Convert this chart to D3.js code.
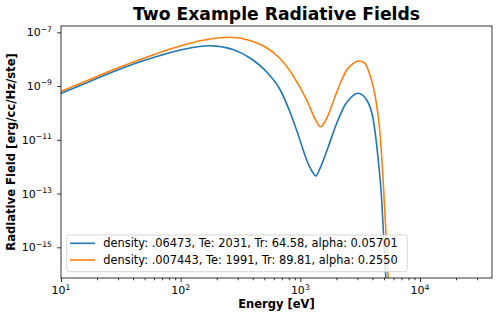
<!DOCTYPE html>
<html>
<head>
<meta charset="utf-8">
<script src="https://cdn.jsdelivr.net/npm/d3@7"></script>
<style>
body { margin: 0; background: #fff; }
svg { display: block; font-family: "DejaVu Sans", sans-serif; }
</style>
</head>
<body>
<svg id="chart" width="499" height="318"></svg>
<script>
// energy [eV] and field [erg/cc/Hz/ste]
const energyBlue = [10, 15.9, 25.7, 41.5, 67.2, 108.7, 175.9, 273.6, 379.6, 523.3, 676, 819.2, 961.1, 1130, 1283, 1344, 1460, 1713, 2013, 2361, 2600, 3033, 3585, 4071, 4481, 4786, 5030, 5197, 5350];
const fieldBlue = [5.28e-10, 1.24e-9, 3.06e-9, 6.90e-9, 1.37e-8, 2.39e-8, 3.15e-8, 2.29e-8, 1.106e-8, 3.33e-9, 7.44e-10, 1.08e-10, 1.51e-11, 1.77e-12, 5.67e-13, 4.50e-13, 8.70e-13, 5.54e-12, 4.11e-11, 1.97e-10, 3.44e-10, 5.37e-10, 3.03e-10, 5.46e-11, 1.77e-12, 5.75e-14, 7.93e-16, 6.07e-17, 4.6e-18];

const energyOrange = [10, 15.9, 25.7, 41.5, 67.2, 108.7, 175.9, 258.3, 379.6, 523.3, 676, 873.3, 1130, 1344, 1468, 1661, 1948, 2145, 2440, 2701, 3050, 3403, 3819, 4206, 4630, 4934, 5196, 5430, 5559];
const fieldOrange = [6.27e-10, 1.477e-9, 3.63e-9, 8.20e-9, 1.77e-8, 3.52e-8, 5.63e-8, 6.52e-8, 4.95e-8, 2.67e-8, 1.06e-8, 2.37e-9, 3.03e-10, 5.46e-11, 3.07e-11, 6.31e-11, 4.01e-10, 1.19e-9, 3.96e-9, 6.34e-9, 8.55e-9, 7.52e-9, 2.58e-9, 4.65e-10, 1.79e-11, 2.47e-13, 3.40e-15, 6.07e-17, 4.6e-18];

const seriesLabels = [
    "density: .06473, Te: 2031, Tr: 64.58, alpha: 0.05701",
    "density: .007443, Te: 1991, Tr: 89.81, alpha: 0.2550"
];
const seriesColors = ["#1f77b4", "#ff7f0e"];

const xTickExps = [1, 2, 3, 4];
const yTickExps = [-15, -13, -11, -9, -7];
const xDomain = [10, 3.996e4];
const yDomain = [7.21e-17, 1.716e-7];

const width = 499, height = 318;
const margin = {top: 26, right: 7, bottom: 40, left: 61};
const plotW = width - margin.left - margin.right;
const plotH = height - margin.top - margin.bottom;

const svg = d3.select("#chart");
const g = svg.append("g").attr("transform", "translate(" + margin.left + "," + margin.top + ")");

const x = d3.scaleLog().domain(xDomain).range([0, plotW]);
const y = d3.scaleLog().domain(yDomain).range([plotH, 0]);

svg.append("defs").append("clipPath").attr("id", "plotclip")
    .append("rect").attr("width", plotW).attr("height", plotH);

// minor x ticks
let minorX = [];
for (let e = 1; e <= 4; e++) {
    for (let m = 2; m <= 9; m++) {
        let v = m * Math.pow(10, e);
        if (v <= xDomain[1]) minorX.push(v);
    }
}

const xMinorAxis = g.append("g").attr("transform", "translate(0," + plotH + ")")
    .call(d3.axisBottom(x).tickValues(minorX).tickSize(2.3).tickFormat(""));
const xAxis = g.append("g").attr("transform", "translate(0," + plotH + ")")
    .call(d3.axisBottom(x).tickValues(xTickExps.map(e => Math.pow(10, e))).tickSize(4).tickFormat(""));
const yAxis = g.append("g")
    .call(d3.axisLeft(y).tickValues(yTickExps.map(e => Math.pow(10, e))).tickSize(4).tickFormat(""));

[xMinorAxis, xAxis, yAxis].forEach(a => {
    a.select(".domain").remove();
    a.selectAll(".tick line").attr("stroke", "#000").attr("stroke-width", 0.8);
});

// tick labels as 10^n
const xLabels = g.append("g").selectAll("text").data(xTickExps).join("text")
    .attr("x", d => x(Math.pow(10, d)))
    .attr("y", plotH + 16.3)
    .attr("text-anchor", "middle")
    .style("font-size", "11px");
xLabels.append("tspan").text("10");
xLabels.append("tspan").attr("dy", -4.8).style("font-size", "7.7px").text(d => String(d).replace("-", "\u2212"));

const yLabels = g.append("g").selectAll("text").data(yTickExps).join("text")
    .attr("x", -9)
    .attr("y", d => y(Math.pow(10, d)) + 4)
    .attr("text-anchor", "end")
    .style("font-size", "11px");
yLabels.append("tspan").text("10");
yLabels.append("tspan").attr("dy", -4.8).style("font-size", "7.7px").text(d => String(d).replace("-", "\u2212"));

// curves
const line = d3.line()
    .x(d => x(d[0]))
    .y(d => y(d[1]))
    .curve(d3.curveMonotoneX);

const series = [
    d3.zip(energyBlue, fieldBlue),
    d3.zip(energyOrange, fieldOrange)
];

g.append("g").attr("clip-path", "url(#plotclip)")
    .selectAll("path").data(series).join("path")
    .attr("d", line)
    .attr("fill", "none")
    .attr("stroke", (d, i) => seriesColors[i])
    .attr("stroke-width", 1.6);

// frame
g.append("rect")
    .attr("width", plotW).attr("height", plotH)
    .attr("fill", "none")
    .attr("stroke", "#000")
    .attr("stroke-width", 0.8);

// legend
const legend = g.append("g").attr("transform", "translate(5.7," + (plotH - 43) + ")");
legend.append("rect")
    .attr("width", 340.6).attr("height", 36.7)
    .attr("rx", 2.5)
    .attr("fill", "#fff").attr("fill-opacity", 0.8)
    .attr("stroke", "#cccccc").attr("stroke-width", 0.8);
const items = legend.selectAll("g.item").data(seriesLabels).join("g")
    .attr("class", "item")
    .attr("transform", (d, i) => "translate(0," + (i * 16.7) + ")");
items.append("line")
    .attr("x1", 3.3).attr("x2", 28.3)
    .attr("y1", 8.3).attr("y2", 8.3)
    .attr("stroke", (d, i) => seriesColors[i])
    .attr("stroke-width", 1.6);
items.append("text")
    .attr("x", 36.6).attr("y", 12.4)
    .style("font-size", "11.4px")
    .text(d => d);

// title and axis labels
svg.append("text")
    .attr("x", margin.left + plotW / 2).attr("y", 20)
    .attr("text-anchor", "middle")
    .style("font-size", "17.2px").style("font-weight", "bold")
    .text("Two Example Radiative Fields");

svg.append("text")
    .attr("x", margin.left + plotW / 2).attr("y", 307.5)
    .attr("text-anchor", "middle")
    .style("font-size", "11.5px").style("font-weight", "bold")
    .text("Energy [eV]");

svg.append("text")
    .attr("transform", "translate(15," + (margin.top + plotH / 2) + ") rotate(-90)")
    .attr("text-anchor", "middle")
    .style("font-size", "11.6px").style("font-weight", "bold")
    .text("Radiative Field [erg/cc/Hz/ste]");
</script>
</body>
</html>
